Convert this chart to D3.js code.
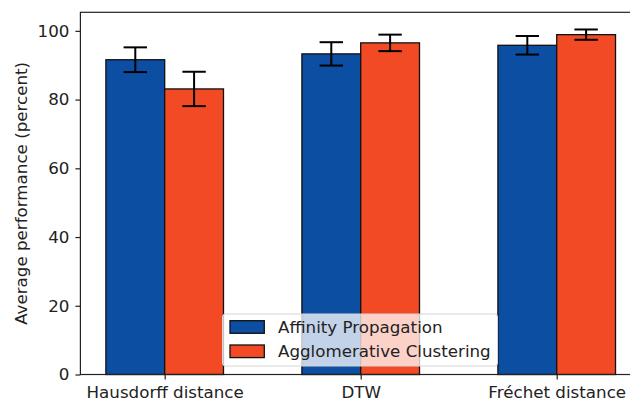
<!DOCTYPE html>
<html>
<head>
<meta charset="utf-8">
<script src="https://cdn.jsdelivr.net/npm/d3@7"></script>
<style>
  body { margin: 0; background: #fff; }
  svg { font-family: "DejaVu Sans", sans-serif; }
</style>
</head>
<body>
<div id="chart"></div>
<script>
// data
var categories = ["Hausdorff distance", "DTW", "Fréchet distance"];
var seriesNames = ["Affinity Propagation", "Agglomerative Clustering"];
var apValues = [91.6, 93.3, 95.8];
var apErrors = [3.6, 3.4, 2.7];
var acValues = [83.1, 96.5, 98.9];
var acErrors = [5.0, 2.4, 1.5];
var yTicks = [0, 20, 40, 60, 80, 100];

var colors = ["#0c4ea2", "#f24a24"];
var series = [
  { name: seriesNames[0], values: apValues, errors: apErrors, color: colors[0], off: -0.5 },
  { name: seriesNames[1], values: acValues, errors: acErrors, color: colors[1], off: 0.5 }
];

var W = 630, H = 407;
var fs = "16.7px";
// note: "top" is a reserved window prop, so use plot* names
var plotL = 80.4, plotR = 641, plotT = 12.3, plotB = 374.5;

var svg = d3.select("#chart").append("svg")
  .attr("width", W).attr("height", H);

var x = d3.scalePoint().domain(categories).range([plotL, plotR]).padding(0.43);
var barW = x.step() * 0.3;
var y = d3.scaleLinear().domain([0, 105.4]).range([plotB, plotT]);

// bars
series.forEach(function(s) {
  var g = svg.append("g");
  g.selectAll("rect").data(categories).enter().append("rect")
    .attr("x", function(d) { return x(d) + (s.off < 0 ? -barW : 0); })
    .attr("y", function(d, i) { return y(s.values[i]); })
    .attr("width", barW)
    .attr("height", function(d, i) { return y(0) - y(s.values[i]); })
    .attr("fill", s.color)
    .attr("stroke", "#111").attr("stroke-width", 1.3);
});

// error bars
series.forEach(function(s) {
  categories.forEach(function(c, i) {
    var cx = x(c) + s.off * barW;
    var y1 = y(s.values[i] + s.errors[i]), y2 = y(s.values[i] - s.errors[i]);
    var g = svg.append("g").attr("stroke", "#000").attr("stroke-width", 2);
    g.append("line").attr("x1", cx).attr("x2", cx).attr("y1", y1).attr("y2", y2);
    g.append("line").attr("x1", cx - 11.7).attr("x2", cx + 11.7).attr("y1", y1).attr("y2", y1);
    g.append("line").attr("x1", cx - 11.7).attr("x2", cx + 11.7).attr("y1", y2).attr("y2", y2);
  });
});

// frame
svg.append("rect")
  .attr("x", plotL).attr("y", plotT)
  .attr("width", plotR - plotL).attr("height", plotB - plotT)
  .attr("fill", "none").attr("stroke", "#222").attr("stroke-width", 1.2);

// axes
var yAxis = d3.axisLeft(y).tickValues(yTicks).tickSize(5).tickPadding(6);
var yg = svg.append("g").attr("transform", "translate(" + plotL + ",0)").call(yAxis);
var xAxis = d3.axisBottom(x).tickSize(5).tickPadding(7);
var xg = svg.append("g").attr("transform", "translate(0," + plotB + ")").call(xAxis);
[yg, xg].forEach(function(g) {
  g.select(".domain").remove();
  g.selectAll("line").attr("stroke", "#222").attr("stroke-width", 1.2);
  g.selectAll("text").attr("fill", "#222").style("font-size", fs)
    .style("font-family", "DejaVu Sans, sans-serif");
});

svg.append("text")
  .attr("transform", "translate(27," + ((plotT + plotB) / 2) + ") rotate(-90)")
  .attr("text-anchor", "middle")
  .attr("fill", "#222")
  .style("font-size", fs)
  .text("Average performance (percent)");

// legend
var lg = svg.append("g").attr("transform", "translate(222.5,314)");
lg.append("rect").attr("width", 275).attr("height", 52).attr("rx", 3)
  .attr("fill", "#fff").attr("fill-opacity", 0.75)
  .attr("stroke", "#d6d6d6").attr("stroke-width", 1);
series.forEach(function(s, i) {
  var row = lg.append("g").attr("transform", "translate(7.5," + (6.7 + i * 24.3) + ")");
  row.append("rect").attr("width", 34.3).attr("height", 12.6)
    .attr("fill", s.color).attr("stroke", "#111").attr("stroke-width", 1.3);
  row.append("text").attr("x", 48).attr("y", 12.3)
    .attr("fill", "#222").style("font-size", fs).text(s.name);
});
</script>
</body>
</html>
